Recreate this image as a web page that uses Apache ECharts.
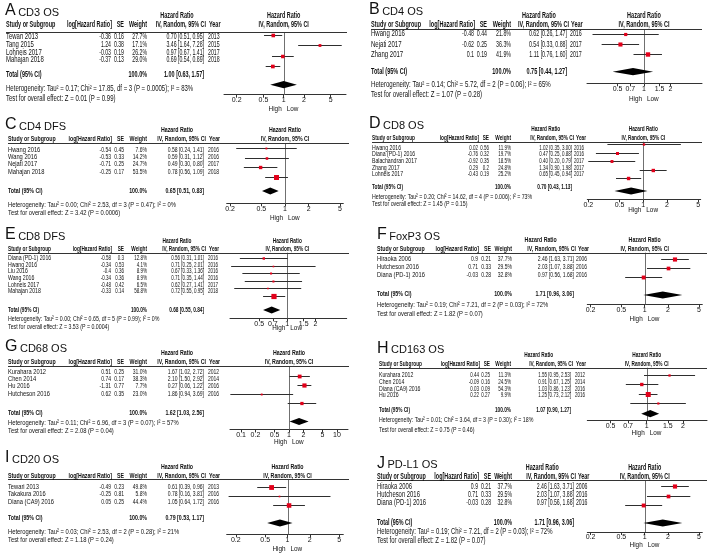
<!DOCTYPE html>
<html>
<head>
<meta charset="utf-8">
<script src="https://cdn.jsdelivr.net/npm/echarts@6/dist/echarts.min.js"></script>
<style>
  html, body { margin: 0; padding: 0; background: #fff; }
  #main { width: 709px; height: 554px; }
</style>
</head>
<body>
<div id="main"></div>
<script>
// ---- data ----
// A  CD3 OS
const cd3Studies = ['Tewari 2013', 'Tang 2015', 'Lohneis 2017', 'Mahajan 2018'];
const cd3LogHR = [-0.36, 1.24, -0.03, -0.37];
const cd3SE = [0.16, 0.38, 0.19, 0.13];
const cd3Weight = [27.7, 17.1, 26.2, 29.0];
const cd3HR = [0.70, 3.46, 0.97, 0.69];
const cd3Low = [0.51, 1.64, 0.67, 0.54];
const cd3High = [0.95, 7.28, 1.41, 0.89];
const cd3Year = [2013, 2015, 2017, 2018];
const cd3Total = [1.00, 0.63, 1.57];
const cd3Het = 'Heterogeneity: Tau² = 0.17; Chi² = 17.85, df = 3 (P = 0.0005); I² = 83%';
const cd3Test = 'Test for overall effect: Z = 0.01 (P = 0.99)';
const cd3Ticks = [0.2, 0.5, 1, 2, 5];

// B  CD4 OS
const cd4osStudies = ['Hwang 2016', 'Nejati 2017', 'Zhang 2017'];
const cd4osLogHR = [-0.48, -0.62, 0.1];
const cd4osSE = [0.44, 0.25, 0.19];
const cd4osWeight = [21.8, 36.3, 41.9];
const cd4osHR = [0.62, 0.54, 1.11];
const cd4osLow = [0.26, 0.33, 0.76];
const cd4osHigh = [1.47, 0.88, 1.60];
const cd4osYear = [2016, 2017, 2017];
const cd4osTotal = [0.75, 0.44, 1.27];
const cd4osHet = 'Heterogeneity: Tau² = 0.14; Chi² = 5.72, df = 2 (P = 0.06); I² = 65%';
const cd4osTest = 'Test for overall effect: Z = 1.07 (P = 0.28)';
const cd4osTicks = [0.5, 0.7, 1, 1.5, 2];

// C  CD4 DFS
const cd4dfsStudies = ['Hwang 2016', 'Wang 2016', 'Nejati 2017', 'Mahajan 2018'];
const cd4dfsLogHR = [-0.54, -0.53, -0.71, -0.25];
const cd4dfsSE = [0.45, 0.33, 0.25, 0.17];
const cd4dfsWeight = [7.6, 14.2, 24.7, 53.5];
const cd4dfsHR = [0.58, 0.59, 0.49, 0.78];
const cd4dfsLow = [0.24, 0.31, 0.30, 0.56];
const cd4dfsHigh = [1.41, 1.12, 0.80, 1.09];
const cd4dfsYear = [2016, 2016, 2017, 2018];
const cd4dfsTotal = [0.65, 0.51, 0.83];
const cd4dfsHet = 'Heterogeneity: Tau² = 0.00; Chi² = 2.53, df = 3 (P = 0.47); I² = 0%';
const cd4dfsTest = 'Test for overall effect: Z = 3.42 (P = 0.0006)';
const cd4dfsTicks = [0.2, 0.5, 1, 2, 5];

// D  CD8 OS
const cd8osStudies = ['Hwang 2016', 'Diana (PD-1) 2016', 'Balachandran 2017', 'Zhang 2017', 'Lohneis 2017'];
const cd8osLogHR = [0.02, -0.76, -0.92, 0.29, -0.43];
const cd8osSE = [0.56, 0.32, 0.35, 0.2, 0.19];
const cd8osWeight = [11.9, 19.7, 18.5, 24.8, 25.2];
const cd8osHR = [1.02, 0.47, 0.40, 1.34, 0.65];
const cd8osLow = [0.35, 0.25, 0.20, 0.90, 0.45];
const cd8osHigh = [3.00, 0.88, 0.79, 1.98, 0.94];
const cd8osYear = [2016, 2016, 2017, 2017, 2017];
const cd8osTotal = [0.70, 0.43, 1.13];
const cd8osHet = 'Heterogeneity: Tau² = 0.20; Chi² = 14.62, df = 4 (P = 0.006); I² = 73%';
const cd8osTest = 'Test for overall effect: Z = 1.45 (P = 0.15)';
const cd8osTicks = [0.2, 0.5, 1, 2, 5];

// E  CD8 DFS
const cd8dfsStudies = ['Diana (PD-1) 2016', 'Hwang 2016', 'Liu 2016', 'Wang 2016', 'Lohneis 2017', 'Mahajan 2018'];
const cd8dfsLogHR = [-0.58, -0.34, -0.4, -0.34, -0.48, -0.33];
const cd8dfsSE = [0.3, 0.53, 0.36, 0.36, 0.42, 0.14];
const cd8dfsWeight = [12.8, 4.1, 8.9, 8.9, 6.5, 58.8];
const cd8dfsHR = [0.56, 0.71, 0.67, 0.71, 0.62, 0.72];
const cd8dfsLow = [0.31, 0.25, 0.33, 0.35, 0.27, 0.55];
const cd8dfsHigh = [1.01, 2.01, 1.36, 1.44, 1.41, 0.95];
const cd8dfsYear = [2016, 2016, 2016, 2016, 2017, 2018];
const cd8dfsTotal = [0.68, 0.55, 0.84];
const cd8dfsHet = 'Heterogeneity: Tau² = 0.00; Chi² = 0.65, df = 5 (P = 0.99); I² = 0%';
const cd8dfsTest = 'Test for overall effect: Z = 3.53 (P = 0.0004)';
const cd8dfsTicks = [0.5, 0.7, 1, 1.5, 2];

// F  FoxP3 OS
const foxp3Studies = ['Hiraoka 2006', 'Hutcheson 2016', 'Diana (PD-1) 2016'];
const foxp3LogHR = [0.9, 0.71, -0.03];
const foxp3SE = [0.21, 0.33, 0.28];
const foxp3Weight = [37.7, 29.5, 32.8];
const foxp3HR = [2.46, 2.03, 0.97];
const foxp3Low = [1.63, 1.07, 0.56];
const foxp3High = [3.71, 3.88, 1.68];
const foxp3Year = [2006, 2016, 2016];
const foxp3Total = [1.71, 0.96, 3.06];
const foxp3Het = 'Heterogeneity: Tau² = 0.19; Chi² = 7.21, df = 2 (P = 0.03); I² = 72%';
const foxp3Test = 'Test for overall effect: Z = 1.82 (P = 0.07)';
const foxp3Ticks = [0.2, 0.5, 1, 2, 5];

// G  CD68 OS
const cd68Studies = ['Kurahara 2012', 'Chen 2014', 'Hu 2016', 'Hutcheson 2016'];
const cd68LogHR = [0.51, 0.74, -1.31, 0.62];
const cd68SE = [0.25, 0.17, 0.77, 0.35];
const cd68Weight = [31.0, 38.3, 7.7, 23.0];
const cd68HR = [1.67, 2.10, 0.27, 1.86];
const cd68Low = [1.02, 1.50, 0.06, 0.94];
const cd68High = [2.72, 2.92, 1.22, 3.69];
const cd68Year = [2012, 2014, 2016, 2016];
const cd68Total = [1.62, 1.03, 2.56];
const cd68Het = 'Heterogeneity: Tau² = 0.11; Chi² = 6.96, df = 3 (P = 0.07); I² = 57%';
const cd68Test = 'Test for overall effect: Z = 2.08 (P = 0.04)';
const cd68Ticks = [0.1, 0.2, 0.5, 1, 2, 5, 10];

// H  CD163 OS
const cd163Studies = ['Kurahara 2012', 'Chen 2014', 'Diana (CA9) 2016', 'Hu 2016'];
const cd163LogHR = [0.44, -0.09, 0.03, 0.22];
const cd163SE = [0.25, 0.16, 0.09, 0.27];
const cd163Weight = [11.3, 24.5, 54.3, 9.9];
const cd163HR = [1.55, 0.91, 1.03, 1.25];
const cd163Low = [0.95, 0.67, 0.86, 0.73];
const cd163High = [2.53, 1.25, 1.23, 2.12];
const cd163Year = [2012, 2014, 2016, 2016];
const cd163Total = [1.07, 0.90, 1.27];
const cd163Het = 'Heterogeneity: Tau² = 0.01; Chi² = 3.64, df = 3 (P = 0.30); I² = 18%';
const cd163Test = 'Test for overall effect: Z = 0.75 (P = 0.46)';
const cd163Ticks = [0.5, 0.7, 1, 1.5, 2];

// I  CD20 OS
const cd20Studies = ['Tewari 2013', 'Takakura 2016', 'Diana (CA9) 2016'];
const cd20LogHR = [-0.49, -0.25, 0.05];
const cd20SE = [0.23, 0.81, 0.25];
const cd20Weight = [49.8, 5.8, 44.4];
const cd20HR = [0.61, 0.78, 1.05];
const cd20Low = [0.39, 0.16, 0.64];
const cd20High = [0.96, 3.81, 1.72];
const cd20Year = [2013, 2016, 2016];
const cd20Total = [0.79, 0.53, 1.17];
const cd20Het = 'Heterogeneity: Tau² = 0.03; Chi² = 2.53, df = 2 (P = 0.28); I² = 21%';
const cd20Test = 'Test for overall effect: Z = 1.18 (P = 0.24)';
const cd20Ticks = [0.2, 0.5, 1, 2, 5];

// J  PD-L1 OS
const pdl1Studies = ['Hiraoka 2006', 'Hutcheson 2016', 'Diana (PD-1) 2016'];
const pdl1LogHR = [0.9, 0.71, -0.03];
const pdl1SE = [0.21, 0.33, 0.28];
const pdl1Weight = [37.7, 29.5, 32.8];
const pdl1HR = [2.46, 2.03, 0.97];
const pdl1Low = [1.63, 1.07, 0.56];
const pdl1High = [3.71, 3.88, 1.68];
const pdl1Year = [2006, 2016, 2016];
const pdl1Total = [1.71, 0.96, 3.06];
const pdl1Het = 'Heterogeneity: Tau² = 0.19; Chi² = 7.21, df = 2 (P = 0.03); I² = 72%';
const pdl1Test = 'Test for overall effect: Z = 1.82 (P = 0.07)';
const pdl1Ticks = [0.2, 0.5, 1, 2, 5];

// ---- layout (pixels) ----
const colsLeft = { study: 8, log: 111, se: 124, w: 147, ci: 204, year: 208, end: 349 };
const colsB = { study: 371, log: 474, se: 487, w: 511, ci: 567, year: 570, end: 702 };
const colsD = { study: 372, log: 478, se: 489, w: 511, ci: 572, year: 574, end: 702 };
const colsF = { study: 377, log: 478, se: 491, w: 512, ci: 574, year: 576, end: 707 };
const colsH = { study: 379, log: 479, se: 490, w: 511, ci: 571, year: 575, end: 707 };

const layA = { fs: 8.4, title: [5, 11], cols: Object.assign({}, colsLeft, { study: 6, end: 347 }), hdr1: [177, 16], hdr2Y: 25, lineY: 32,
  rowY: 37, rowStep: 7.6, totalY: 75, hetY: 89, testY: 99,
  plot: { x0: 224, x1: 346, ref: 283.7, ppd: 67.3, row0: 35.3, step: 10.1, diamondY: 84.7, axisY: 94.7, hlY: 109 } };
const layB = { fs: 8.5, title: [369, 10], cols: colsB, hdr1: [539, 15.7], hdr2Y: 25, lineY: 29.3,
  rowY: 34, rowStep: 10.5, totalY: 71.7, hetY: 84.3, testY: 95,
  plot: { x0: 587, x1: 702, ref: 644, ppd: 88, row0: 34.3, step: 9.9, diamondY: 71.7, axisY: 83.3, hlY: 99.3 } };
const layC = { fs: 8.1, title: [5, 125], cols: colsLeft, hdr1: [177, 130], hdr2Y: 139, lineY: 143.3,
  rowY: 149.3, rowStep: 7.45, totalY: 191, hetY: 204.3, testY: 212.3,
  plot: { x0: 226.7, x1: 343.3, ref: 285, ppd: 78.7, row0: 148.3, step: 9.45, diamondY: 191, axisY: 203.3, hlY: 217.7 } };
const layD = { fs: 7.3, title: [369, 124], cols: colsD, hdr1: [545.7, 129.3], hdr2Y: 137.7, lineY: 141.7,
  rowY: 147.7, rowStep: 6.65, totalY: 187.3, hetY: 197.3, testY: 204.3,
  plot: { x0: 587.3, x1: 700.7, ref: 643.3, ppd: 78.7, row0: 144.3, step: 8.5, diamondY: 191, axisY: 199.3, hlY: 210 } };
const layE = { fs: 7.3, title: [5, 235], cols: colsLeft, hdr1: [177, 241], hdr2Y: 249.3, lineY: 252.7,
  rowY: 258.3, rowStep: 6.55, totalY: 310, hetY: 319.3, testY: 326.7,
  plot: { x0: 230, x1: 346.7, ref: 287.3, ppd: 93.3, row0: 258.3, step: 7.5, diamondY: 310, axisY: 318.3, hlY: 328.3 } };
const layF = { fs: 8.1, title: [377, 235], cols: colsF, hdr1: [540.7, 240], hdr2Y: 249, lineY: 252.7,
  rowY: 259, rowStep: 7.65, totalY: 294, hetY: 305, testY: 314,
  plot: { x0: 587.3, x1: 702.3, ref: 644.7, ppd: 77.5, row0: 259, step: 8.85, diamondY: 295, axisY: 304.3, hlY: 319 } };
const layG = { fs: 8.1, title: [5, 347], cols: colsLeft, hdr1: [177, 353], hdr2Y: 361.3, lineY: 366,
  rowY: 371.3, rowStep: 7.45, totalY: 413, hetY: 422.7, testY: 431,
  plot: { x0: 230, x1: 348, ref: 289, ppd: 48, row0: 375.8, step: 9.2, diamondY: 421.5, axisY: 429.5, hlY: 442 } };
const layH = { fs: 7.3, title: [377, 348.7], cols: colsH, hdr1: [538.7, 355.3], hdr2Y: 363.7, lineY: 367.7,
  rowY: 375.3, rowStep: 6.67, totalY: 410.3, hetY: 420.3, testY: 429.7,
  plot: { x0: 587.3, x1: 707, ref: 646.7, ppd: 120, row0: 375.3, step: 9.1, diamondY: 413.7, axisY: 420.3, hlY: 432.7 } };
const layI = { fs: 8.1, title: [5, 458], cols: colsLeft, hdr1: [177, 467], hdr2Y: 475.3, lineY: 479.3,
  rowY: 486.3, rowStep: 7.5, totalY: 518, hetY: 531.3, testY: 539.7,
  plot: { x0: 226.7, x1: 343.3, ref: 287.5, ppd: 74, row0: 487, step: 8.85, diamondY: 523, axisY: 534.3, hlY: 548.7 } };
const layJ = { fs: 8.3, title: [377, 463.7], cols: colsF, hdr1: [542.3, 468], hdr2Y: 476.3, lineY: 480.3,
  rowY: 486.3, rowStep: 8.35, totalY: 523, hetY: 532, testY: 540.3,
  plot: { x0: 587.3, x1: 702.3, ref: 644.7, ppd: 77.5, row0: 486.3, step: 9.2, diamondY: 523, axisY: 532, hlY: 545.3 } };

const panels = [
  { letter: 'A', name: 'CD3 OS', studies: cd3Studies, logHR: cd3LogHR, se: cd3SE, weight: cd3Weight, hr: cd3HR, low: cd3Low, high: cd3High, year: cd3Year, total: cd3Total, het: cd3Het, test: cd3Test, ticks: cd3Ticks, lay: layA },
  { letter: 'B', name: 'CD4 OS', studies: cd4osStudies, logHR: cd4osLogHR, se: cd4osSE, weight: cd4osWeight, hr: cd4osHR, low: cd4osLow, high: cd4osHigh, year: cd4osYear, total: cd4osTotal, het: cd4osHet, test: cd4osTest, ticks: cd4osTicks, lay: layB },
  { letter: 'C', name: 'CD4 DFS', studies: cd4dfsStudies, logHR: cd4dfsLogHR, se: cd4dfsSE, weight: cd4dfsWeight, hr: cd4dfsHR, low: cd4dfsLow, high: cd4dfsHigh, year: cd4dfsYear, total: cd4dfsTotal, het: cd4dfsHet, test: cd4dfsTest, ticks: cd4dfsTicks, lay: layC },
  { letter: 'D', name: 'CD8 OS', studies: cd8osStudies, logHR: cd8osLogHR, se: cd8osSE, weight: cd8osWeight, hr: cd8osHR, low: cd8osLow, high: cd8osHigh, year: cd8osYear, total: cd8osTotal, het: cd8osHet, test: cd8osTest, ticks: cd8osTicks, lay: layD },
  { letter: 'E', name: 'CD8 DFS', studies: cd8dfsStudies, logHR: cd8dfsLogHR, se: cd8dfsSE, weight: cd8dfsWeight, hr: cd8dfsHR, low: cd8dfsLow, high: cd8dfsHigh, year: cd8dfsYear, total: cd8dfsTotal, het: cd8dfsHet, test: cd8dfsTest, ticks: cd8dfsTicks, lay: layE },
  { letter: 'F', name: 'FoxP3 OS', studies: foxp3Studies, logHR: foxp3LogHR, se: foxp3SE, weight: foxp3Weight, hr: foxp3HR, low: foxp3Low, high: foxp3High, year: foxp3Year, total: foxp3Total, het: foxp3Het, test: foxp3Test, ticks: foxp3Ticks, lay: layF },
  { letter: 'G', name: 'CD68 OS', studies: cd68Studies, logHR: cd68LogHR, se: cd68SE, weight: cd68Weight, hr: cd68HR, low: cd68Low, high: cd68High, year: cd68Year, total: cd68Total, het: cd68Het, test: cd68Test, ticks: cd68Ticks, lay: layG },
  { letter: 'H', name: 'CD163 OS', studies: cd163Studies, logHR: cd163LogHR, se: cd163SE, weight: cd163Weight, hr: cd163HR, low: cd163Low, high: cd163High, year: cd163Year, total: cd163Total, het: cd163Het, test: cd163Test, ticks: cd163Ticks, lay: layH },
  { letter: 'I', name: 'CD20 OS', studies: cd20Studies, logHR: cd20LogHR, se: cd20SE, weight: cd20Weight, hr: cd20HR, low: cd20Low, high: cd20High, year: cd20Year, total: cd20Total, het: cd20Het, test: cd20Test, ticks: cd20Ticks, lay: layI },
  { letter: 'J', name: 'PD-L1 OS', studies: pdl1Studies, logHR: pdl1LogHR, se: pdl1SE, weight: pdl1Weight, hr: pdl1HR, low: pdl1Low, high: pdl1High, year: pdl1Year, total: pdl1Total, het: pdl1Het, test: pdl1Test, ticks: pdl1Ticks, lay: layJ }
];

const FONT = 'Liberation Sans';
const INK = '#111';
const RED = '#e2001a';

// horizontal squeeze for the condensed table text
const SX = { name: 0.71, num: 0.62, note: 0.72, bold: 0.65, hl: 0.85 };

const measure = document.createElement('canvas').getContext('2d');
function textWidth(s, size) {
  measure.font = size + 'px "' + FONT + '"';
  return measure.measureText(s).width;
}

function txt(x, y, s, fs, kind, align) {
  return {
    type: 'text', x: x, y: y, silent: true, z: 10,
    scaleX: SX[kind],
    style: {
      text: s, fill: INK, fontFamily: FONT, fontSize: fs,
      fontWeight: kind === 'bold' ? 'bold' : 'normal',
      align: align || 'left', verticalAlign: 'middle'
    }
  };
}

function renderStudy(params, api) {
  const y = api.value(3);
  const m = api.coord([api.value(0), y]);
  const a = api.coord([api.value(1), y]);
  const b = api.coord([api.value(2), y]);
  const s = Math.max(1.6, 0.68 * Math.sqrt(api.value(4)));
  const yy = Math.round(m[1]) + 0.5;
  return {
    type: 'group',
    children: [
      { type: 'line', shape: { x1: a[0], y1: yy, x2: b[0], y2: yy }, style: { stroke: '#2e2e2e', lineWidth: 1 } },
      { type: 'rect', shape: { x: m[0] - s / 2, y: yy - s / 2, width: s, height: s }, style: { fill: RED } }
    ]
  };
}

function renderDiamond(params, api) {
  const y = api.value(3);
  const m = api.coord([api.value(0), y]);
  const a = api.coord([api.value(1), y]);
  const b = api.coord([api.value(2), y]);
  const h = 3.6;
  return {
    type: 'polygon',
    shape: { points: [[a[0], m[1]], [m[0], m[1] - h], [b[0], m[1]], [m[0], m[1] + h]] },
    style: { fill: '#000' }
  };
}

// line of no effect, full height of the plot area
function renderNoEffect(params, api) {
  const cs = params.coordSys;
  const x = Math.round(api.coord([api.value(0), 0])[0]) + 0.5;
  return {
    type: 'line',
    shape: { x1: x, y1: cs.y, x2: x, y2: cs.y + cs.height },
    style: { stroke: '#707070', lineWidth: 1 }
  };
}

const fmtCI = (h, l, u) => h.toFixed(2) + ' [' + l.toFixed(2) + ', ' + u.toFixed(2) + ']';

const grids = [], xAxes = [], yAxes = [], series = [], graphics = [];

panels.forEach((p, i) => {
  const L = p.lay, P = L.plot, c = L.cols, fs = L.fs;

  grids.push({ left: P.x0, top: L.lineY, width: P.x1 - P.x0, height: P.axisY - L.lineY });
  xAxes.push({
    type: 'log', logBase: 10, gridIndex: i,
    min: Math.pow(10, (P.x0 - P.ref) / P.ppd),
    max: Math.pow(10, (P.x1 - P.ref) / P.ppd),
    axisLine: { show: true, onZero: false, lineStyle: { color: '#333', width: 1 } },
    axisTick: { show: true, customValues: p.ticks, length: 3, lineStyle: { color: '#333' } },
    axisLabel: {
      customValues: p.ticks, fontSize: 7, color: INK, fontFamily: FONT, margin: 2,
      formatter: v => String(+(+v).toPrecision(2))
    },
    splitLine: { show: false }
  });
  yAxes.push({
    type: 'value', gridIndex: i, show: false, inverse: true,
    min: (L.lineY - P.row0) / P.step,
    max: (P.axisY - P.row0) / P.step
  });

  series.push({ type: 'custom', xAxisIndex: i, yAxisIndex: i, z: 2, renderItem: renderNoEffect, data: [[1, 0]] });
  const rows = p.studies.map((s, k) => [p.hr[k], p.low[k], p.high[k], k, p.weight[k]]);
  series.push({ type: 'custom', xAxisIndex: i, yAxisIndex: i, z: 3, renderItem: renderStudy, data: rows });
  series.push({
    type: 'custom', xAxisIndex: i, yAxisIndex: i, z: 4, renderItem: renderDiamond,
    data: [[p.total[0], p.total[1], p.total[2], (P.diamondY - P.row0) / P.step]]
  });

  // title: big letter + marker name
  const lw = textWidth(p.letter, 16);
  graphics.push({ type: 'text', x: L.title[0], y: L.title[1], silent: true,
    style: { text: p.letter, fill: INK, fontFamily: FONT, fontSize: 16, verticalAlign: 'middle' } });
  graphics.push({ type: 'text', x: L.title[0] + lw + 2.5, y: L.title[1] + 1.7, silent: true,
    style: { text: p.name, fill: INK, fontFamily: FONT, fontSize: 11, verticalAlign: 'middle' } });

  // column headers
  graphics.push(txt(L.hdr1[0], L.hdr1[1], 'Hazard Ratio', fs, 'bold', 'center'));
  graphics.push(txt(P.ref, L.hdr1[1], 'Hazard Ratio', fs, 'bold', 'center'));
  graphics.push(txt(c.study, L.hdr2Y, 'Study or Subgroup', fs, 'bold'));
  graphics.push(txt(c.log + 1, L.hdr2Y, 'log[Hazard Ratio]', fs, 'bold', 'right'));
  graphics.push(txt(c.se, L.hdr2Y, 'SE', fs, 'bold', 'right'));
  graphics.push(txt(c.w, L.hdr2Y, 'Weight', fs, 'bold', 'right'));
  graphics.push(txt(c.ci + 2, L.hdr2Y, 'IV, Random, 95% CI', fs, 'bold', 'right'));
  graphics.push(txt(Math.max(c.year + 1, c.ci + 4), L.hdr2Y, 'Year', fs, 'bold'));
  graphics.push(txt(P.ref, L.hdr2Y, 'IV, Random, 95% CI', fs, 'bold', 'center'));
  graphics.push({ type: 'line', silent: true, z: 5,
    shape: { x1: c.study, y1: Math.round(L.lineY) + 0.5, x2: c.end, y2: Math.round(L.lineY) + 0.5 },
    style: { stroke: '#333', lineWidth: 1 } });

  // study rows
  p.studies.forEach((s, k) => {
    const y = L.rowY + k * L.rowStep;
    graphics.push(txt(c.study, y, s, fs, 'name'));
    graphics.push(txt(c.log, y, String(p.logHR[k]), fs, 'num', 'right'));
    graphics.push(txt(c.se, y, String(p.se[k]), fs, 'num', 'right'));
    graphics.push(txt(c.w, y, p.weight[k].toFixed(1) + '%', fs, 'num', 'right'));
    graphics.push(txt(c.ci, y, fmtCI(p.hr[k], p.low[k], p.high[k]), fs, 'num', 'right'));
    graphics.push(txt(c.year, y, String(p.year[k]), fs, 'num'));
  });

  // total and footnotes
  graphics.push(txt(c.study, L.totalY, 'Total (95% CI)', fs, 'bold'));
  graphics.push(txt(c.w, L.totalY, '100.0%', fs, 'bold', 'right'));
  graphics.push(txt(c.ci, L.totalY, fmtCI(p.total[0], p.total[1], p.total[2]), fs, 'bold', 'right'));
  graphics.push(txt(c.study, L.hetY, p.het, fs, 'note'));
  graphics.push(txt(c.study, L.testY, p.test, fs, 'note'));

  graphics.push(txt(P.ref - 2, P.hlY, 'High', 7.5, 'hl', 'right'));
  graphics.push(txt(P.ref + 3, P.hlY, 'Low', 7.5, 'hl'));
});

const chart = echarts.init(document.getElementById('main'), null, { renderer: 'canvas' });
chart.setOption({
  animation: false,
  backgroundColor: '#ffffff',
  grid: grids,
  xAxis: xAxes,
  yAxis: yAxes,
  series: series,
  graphic: { elements: graphics }
});
</script>
</body>
</html>
